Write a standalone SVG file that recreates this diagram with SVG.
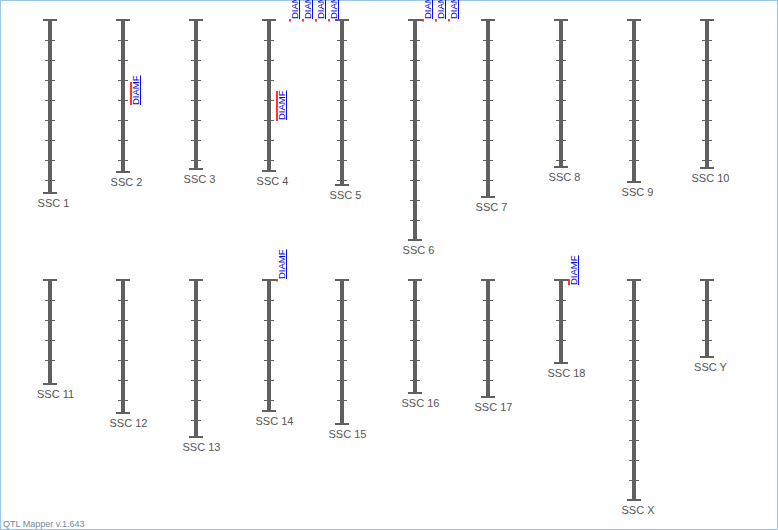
<svg xmlns="http://www.w3.org/2000/svg" width="778" height="530" viewBox="0 0 778 530">
<style>
.bar{fill:#606060}
.cap{stroke:#606060;stroke-width:2;fill:none}
.tk{stroke:#606060;stroke-width:1;fill:none}
.lbl{font-family:"Liberation Sans",Arial,sans-serif;font-size:11px;fill:#555;text-anchor:middle}
.q{fill:#ff3333}
.qt{font-family:"Liberation Sans",Arial,sans-serif;font-size:9.5px;fill:#0000ee;text-decoration:underline}
</style>
<rect x="0.5" y="0.5" width="777" height="529" fill="#fff" stroke="#9cc6e8" stroke-width="1"/>
<g id="SSC1"><rect class="bar" x="48" y="20" width="4" height="173"/><path class="cap" d="M43 20H57M43 193H57"/><path class="tk" d="M45 40.5H55M45 60.5H55M45 80.5H55M45 100.5H55M45 120.5H55M45 140.5H55M45 160.5H55M45 180.5H55"/><text class="lbl" x="53.5" y="207">SSC 1</text></g>
<g id="SSC2"><rect class="bar" x="121" y="20" width="4" height="152"/><path class="cap" d="M116 20H130M116 172H130"/><path class="tk" d="M118 40.5H128M118 60.5H128M118 80.5H128M118 100.5H128M118 120.5H128M118 140.5H128M118 160.5H128"/><text class="lbl" x="126.5" y="186">SSC 2</text>
<rect class="q" x="130" y="82" width="2" height="23"/><text class="qt" transform="translate(139,105) rotate(-90)">DIAMF</text></g>
<g id="SSC3"><rect class="bar" x="194" y="20" width="4" height="149"/><path class="cap" d="M189 20H203M189 169H203"/><path class="tk" d="M191 40.5H201M191 60.5H201M191 80.5H201M191 100.5H201M191 120.5H201M191 140.5H201M191 160.5H201"/><text class="lbl" x="199.5" y="183">SSC 3</text></g>
<g id="SSC4"><rect class="bar" x="267" y="20" width="4" height="151"/><path class="cap" d="M262 20H276M262 171H276"/><path class="tk" d="M264 40.5H274M264 60.5H274M264 80.5H274M264 100.5H274M264 120.5H274M264 140.5H274M264 160.5H274"/><text class="lbl" x="272.5" y="185">SSC 4</text>
<rect class="q" x="276" y="91" width="2" height="30"/><text class="qt" transform="translate(285,120) rotate(-90)">DIAMF</text>
<rect class="q" x="289" y="19" width="2" height="2.5"/><text class="qt" transform="translate(298,19) rotate(-90)">DIAMF</text>
<rect class="q" x="302" y="19" width="2" height="2.5"/><text class="qt" transform="translate(311,19) rotate(-90)">DIAMF</text>
<rect class="q" x="315" y="19" width="2" height="2.5"/><text class="qt" transform="translate(324,19) rotate(-90)">DIAMF</text>
<rect class="q" x="328" y="19" width="2" height="2.5"/><text class="qt" transform="translate(337,19) rotate(-90)">DIAMF</text></g>
<g id="SSC5"><rect class="bar" x="340" y="20" width="4" height="165"/><path class="cap" d="M335 20H349M335 185H349"/><path class="tk" d="M337 40.5H347M337 60.5H347M337 80.5H347M337 100.5H347M337 120.5H347M337 140.5H347M337 160.5H347M337 180.5H347"/><text class="lbl" x="345.5" y="199">SSC 5</text></g>
<g id="SSC6"><rect class="bar" x="413" y="20" width="4" height="220"/><path class="cap" d="M408 20H422M408 240H422"/><path class="tk" d="M410 40.5H420M410 60.5H420M410 80.5H420M410 100.5H420M410 120.5H420M410 140.5H420M410 160.5H420M410 180.5H420M410 200.5H420M410 220.5H420"/><text class="lbl" x="418.5" y="254">SSC 6</text>
<rect class="q" x="422" y="19" width="2" height="2.5"/><text class="qt" transform="translate(431,19) rotate(-90)">DIAMF</text>
<rect class="q" x="435" y="19" width="2" height="2.5"/><text class="qt" transform="translate(444,19) rotate(-90)">DIAMF</text>
<rect class="q" x="448" y="19" width="2" height="2.5"/><text class="qt" transform="translate(457,19) rotate(-90)">DIAMF</text></g>
<g id="SSC7"><rect class="bar" x="486" y="20" width="4" height="177"/><path class="cap" d="M481 20H495M481 197H495"/><path class="tk" d="M483 40.5H493M483 60.5H493M483 80.5H493M483 100.5H493M483 120.5H493M483 140.5H493M483 160.5H493M483 180.5H493"/><text class="lbl" x="491.5" y="211">SSC 7</text></g>
<g id="SSC8"><rect class="bar" x="559" y="20" width="4" height="147"/><path class="cap" d="M554 20H568M554 167H568"/><path class="tk" d="M556 40.5H566M556 60.5H566M556 80.5H566M556 100.5H566M556 120.5H566M556 140.5H566M556 160.5H566"/><text class="lbl" x="564.5" y="181">SSC 8</text></g>
<g id="SSC9"><rect class="bar" x="632" y="20" width="4" height="162"/><path class="cap" d="M627 20H641M627 182H641"/><path class="tk" d="M629 40.5H639M629 60.5H639M629 80.5H639M629 100.5H639M629 120.5H639M629 140.5H639M629 160.5H639"/><text class="lbl" x="637.5" y="196">SSC 9</text></g>
<g id="SSC10"><rect class="bar" x="705" y="20" width="4" height="148"/><path class="cap" d="M700 20H714M700 168H714"/><path class="tk" d="M702 40.5H712M702 60.5H712M702 80.5H712M702 100.5H712M702 120.5H712M702 140.5H712M702 160.5H712"/><text class="lbl" x="710.5" y="182">SSC 10</text></g>
<g id="SSC11"><rect class="bar" x="48" y="280" width="4" height="104"/><path class="cap" d="M43 280H57M43 384H57"/><path class="tk" d="M45 300.5H55M45 320.5H55M45 340.5H55M45 360.5H55"/><text class="lbl" x="55.5" y="398">SSC 11</text></g>
<g id="SSC12"><rect class="bar" x="121" y="280" width="4" height="133"/><path class="cap" d="M116 280H130M116 413H130"/><path class="tk" d="M118 300.5H128M118 320.5H128M118 340.5H128M118 360.5H128M118 380.5H128M118 400.5H128"/><text class="lbl" x="128.5" y="427">SSC 12</text></g>
<g id="SSC13"><rect class="bar" x="194" y="280" width="4" height="157"/><path class="cap" d="M189 280H203M189 437H203"/><path class="tk" d="M191 300.5H201M191 320.5H201M191 340.5H201M191 360.5H201M191 380.5H201M191 400.5H201M191 420.5H201"/><text class="lbl" x="201.5" y="451">SSC 13</text></g>
<g id="SSC14"><rect class="bar" x="267" y="280" width="4" height="131"/><path class="cap" d="M262 280H276M262 411H276"/><path class="tk" d="M264 300.5H274M264 320.5H274M264 340.5H274M264 360.5H274M264 380.5H274M264 400.5H274"/><text class="lbl" x="274.5" y="425">SSC 14</text>
<rect class="q" x="276" y="279" width="2" height="2.5"/><text class="qt" transform="translate(285,279) rotate(-90)">DIAMF</text></g>
<g id="SSC15"><rect class="bar" x="340" y="280" width="4" height="144"/><path class="cap" d="M335 280H349M335 424H349"/><path class="tk" d="M337 300.5H347M337 320.5H347M337 340.5H347M337 360.5H347M337 380.5H347M337 400.5H347"/><text class="lbl" x="347.5" y="438">SSC 15</text></g>
<g id="SSC16"><rect class="bar" x="413" y="280" width="4" height="113"/><path class="cap" d="M408 280H422M408 393H422"/><path class="tk" d="M410 300.5H420M410 320.5H420M410 340.5H420M410 360.5H420M410 380.5H420"/><text class="lbl" x="420.5" y="407">SSC 16</text></g>
<g id="SSC17"><rect class="bar" x="486" y="280" width="4" height="117"/><path class="cap" d="M481 280H495M481 397H495"/><path class="tk" d="M483 300.5H493M483 320.5H493M483 340.5H493M483 360.5H493M483 380.5H493"/><text class="lbl" x="493.5" y="411">SSC 17</text></g>
<g id="SSC18"><rect class="bar" x="559" y="280" width="4" height="83"/><path class="cap" d="M554 280H568M554 363H568"/><path class="tk" d="M556 300.5H566M556 320.5H566M556 340.5H566"/><text class="lbl" x="566.5" y="377">SSC 18</text>
<rect class="q" x="568" y="279" width="2" height="6"/><text class="qt" transform="translate(577,285) rotate(-90)">DIAMF</text></g>
<g id="SSCX"><rect class="bar" x="632" y="280" width="4" height="220"/><path class="cap" d="M627 280H641M627 500H641"/><path class="tk" d="M629 300.5H639M629 320.5H639M629 340.5H639M629 360.5H639M629 380.5H639M629 400.5H639M629 420.5H639M629 440.5H639M629 460.5H639M629 480.5H639"/><text class="lbl" x="638" y="514">SSC X</text></g>
<g id="SSCY"><rect class="bar" x="705" y="280" width="4" height="77"/><path class="cap" d="M700 280H714M700 357H714"/><path class="tk" d="M702 300.5H712M702 320.5H712M702 340.5H712"/><text class="lbl" x="710.5" y="371">SSC Y</text></g>
<g id="connectors"></g>
<text x="3" y="527" style="font-family:'Liberation Sans',Arial,sans-serif;font-size:9px;fill:#7388a0">QTL Mapper v.1.643</text>
</svg>
